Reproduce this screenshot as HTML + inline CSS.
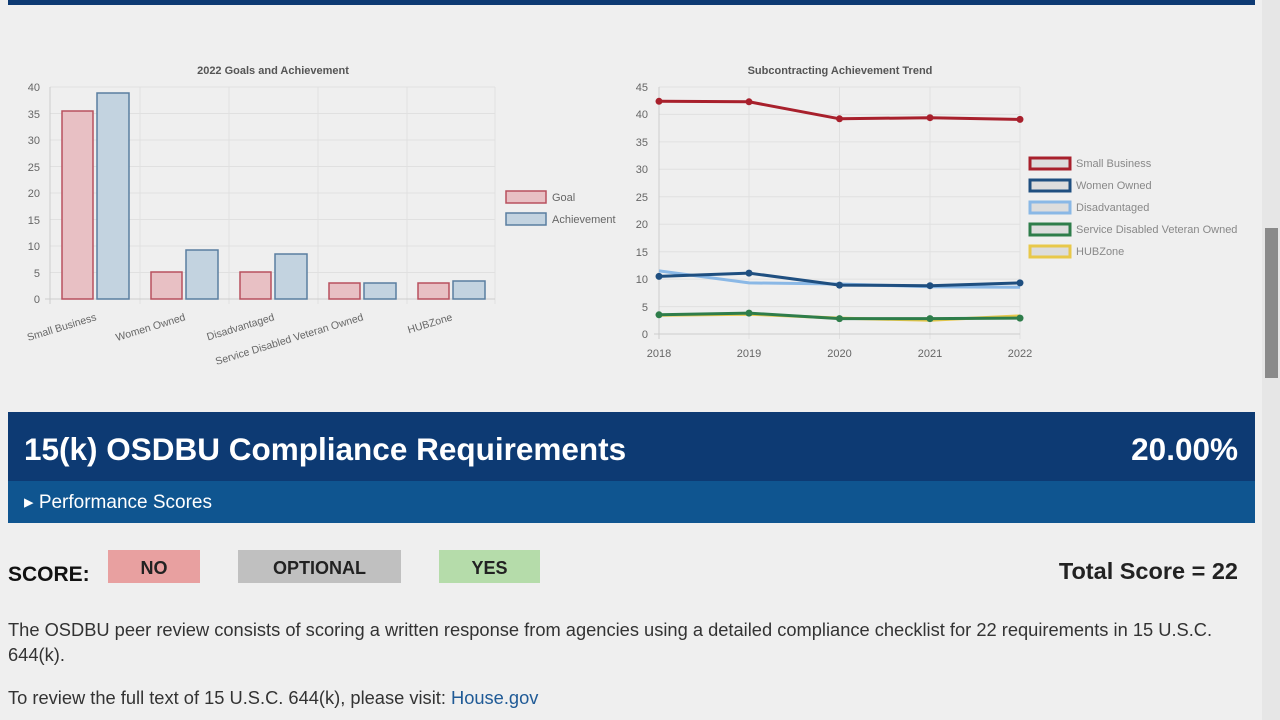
<!DOCTYPE html>
<html><head><style>
body{margin:0;width:1280px;height:720px;background:#efefef;font-family:"Liberation Sans",sans-serif;position:relative;overflow:hidden}
.a{position:absolute}
</style></head><body>
<div class="a" style="left:8px;top:0;width:1247px;height:5px;background:#0d3a73"></div>
<div class="a" style="left:1262px;top:0;width:18px;height:720px;background:#e6e6e6"></div>
<div class="a" style="left:1265px;top:228px;width:13px;height:150px;background:#8a8a8a"></div>
<svg class="a" style="left:0;top:0" width="1260" height="400" font-family="Liberation Sans" font-size="11" fill="#666">
<text x="273" y="74" text-anchor="middle" font-weight="bold" fill="#555">2022 Goals and Achievement</text>
<g stroke="#e0e0e0">
<line x1="50" x2="495" y1="87" y2="87"/><line x1="50" x2="495" y1="113.5" y2="113.5"/><line x1="50" x2="495" y1="140" y2="140"/><line x1="50" x2="495" y1="166.5" y2="166.5"/><line x1="50" x2="495" y1="193" y2="193"/><line x1="50" x2="495" y1="219.5" y2="219.5"/><line x1="50" x2="495" y1="246" y2="246"/><line x1="50" x2="495" y1="272.5" y2="272.5"/>
<line x1="140" x2="140" y1="87" y2="304"/><line x1="229" x2="229" y1="87" y2="304"/><line x1="318" x2="318" y1="87" y2="304"/><line x1="407" x2="407" y1="87" y2="304"/><line x1="495" x2="495" y1="87" y2="304"/>
</g>
<line x1="50" x2="50" y1="87" y2="304" stroke="#ccc"/><line x1="45" x2="495" y1="299" y2="299" stroke="#ccc"/>
<g text-anchor="end"><text x="40" y="91">40</text><text x="40" y="118">35</text><text x="40" y="144">30</text><text x="40" y="171">25</text><text x="40" y="197">20</text><text x="40" y="224">15</text><text x="40" y="250">10</text><text x="40" y="277">5</text><text x="40" y="303">0</text></g>
<g fill="#e8c0c4" stroke="#b8505e" stroke-width="1.5">
<rect x="62" y="111" width="31" height="188"/><rect x="151" y="272" width="31" height="27"/><rect x="240" y="272" width="31" height="27"/><rect x="329" y="283" width="31" height="16"/><rect x="418" y="283" width="31" height="16"/></g>
<g fill="#c3d3e0" stroke="#5a7ea0" stroke-width="1.5">
<rect x="97" y="93" width="32" height="206"/><rect x="186" y="250" width="32" height="49"/><rect x="275" y="254" width="32" height="45"/><rect x="364" y="283" width="32" height="16"/><rect x="453" y="281" width="32" height="18"/></g>
<g font-size="10.5">
<text transform="translate(97,320) rotate(-17)" text-anchor="end">Small Business</text>
<text transform="translate(186,320) rotate(-17)" text-anchor="end">Women Owned</text>
<text transform="translate(275,320) rotate(-17)" text-anchor="end">Disadvantaged</text>
<text transform="translate(364,320) rotate(-17)" text-anchor="end">Service Disabled Veteran Owned</text>
<text transform="translate(453,320) rotate(-17)" text-anchor="end">HUBZone</text></g>
<rect x="506" y="191" width="40" height="12" fill="#e8c0c4" stroke="#b8505e" stroke-width="1.5"/><text x="552" y="201">Goal</text>
<rect x="506" y="213" width="40" height="12" fill="#c3d3e0" stroke="#5a7ea0" stroke-width="1.5"/><text x="552" y="223">Achievement</text>

<text x="840" y="74" text-anchor="middle" font-weight="bold" fill="#555">Subcontracting Achievement Trend</text>
<g stroke="#e0e0e0">
<line x1="659" x2="1020" y1="87" y2="87"/><line x1="659" x2="1020" y1="114.4" y2="114.4"/><line x1="659" x2="1020" y1="141.9" y2="141.9"/><line x1="659" x2="1020" y1="169.3" y2="169.3"/><line x1="659" x2="1020" y1="196.8" y2="196.8"/><line x1="659" x2="1020" y1="224.2" y2="224.2"/><line x1="659" x2="1020" y1="251.7" y2="251.7"/><line x1="659" x2="1020" y1="279.1" y2="279.1"/><line x1="659" x2="1020" y1="306.6" y2="306.6"/>
<line x1="749" x2="749" y1="87" y2="339"/><line x1="839.5" x2="839.5" y1="87" y2="339"/><line x1="930" x2="930" y1="87" y2="339"/><line x1="1020" x2="1020" y1="87" y2="339"/></g>
<line x1="659" x2="659" y1="87" y2="339" stroke="#ccc"/><line x1="654" x2="1020" y1="334" y2="334" stroke="#ccc"/>
<g text-anchor="end"><text x="648" y="91">45</text><text x="648" y="118">40</text><text x="648" y="146">35</text><text x="648" y="173">30</text><text x="648" y="201">25</text><text x="648" y="228">20</text><text x="648" y="256">15</text><text x="648" y="283">10</text><text x="648" y="311">5</text><text x="648" y="338">0</text></g>
<g text-anchor="middle"><text x="659" y="357">2018</text><text x="749" y="357">2019</text><text x="839.5" y="357">2020</text><text x="930" y="357">2021</text><text x="1020" y="357">2022</text></g>
<g fill="none" stroke-width="3">
<polyline stroke="#e8c84a" points="659,315.3 749,314.2 839.5,318.1 930,320.3 1020,315.9"/>
<polyline stroke="#2e7d4a" points="659,314.8 749,313.1 839.5,318.6 930,318.6 1020,318.1"/>
<polyline stroke="#8ab8e6" points="659,270.9 749,282.9 839.5,284 930,286.8 1020,287.3"/>
<polyline stroke="#1f4f80" points="659,276.4 749,273.1 839.5,285.1 930,285.7 1020,282.9"/>
<polyline stroke="#a8202c" points="659,101.3 749,101.8 839.5,118.8 930,117.7 1020,119.4"/>
</g>
<g fill="#a8202c"><circle cx="659" cy="101.3" r="3.5"/><circle cx="749" cy="101.8" r="3.5"/><circle cx="839.5" cy="118.8" r="3.5"/><circle cx="930" cy="117.7" r="3.5"/><circle cx="1020" cy="119.4" r="3.5"/></g>
<g fill="#1f4f80"><circle cx="659" cy="276.4" r="3.5"/><circle cx="749" cy="273.1" r="3.5"/><circle cx="839.5" cy="285.1" r="3.5"/><circle cx="930" cy="285.7" r="3.5"/><circle cx="1020" cy="282.9" r="3.5"/></g>
<g fill="#2e7d4a"><circle cx="659" cy="314.8" r="3.5"/><circle cx="749" cy="313.1" r="3.5"/><circle cx="839.5" cy="318.6" r="3.5"/><circle cx="930" cy="318.6" r="3.5"/><circle cx="1020" cy="318.1" r="3.5"/></g>
<g stroke-width="3" fill="#ddd">
<rect x="1030" y="158" width="40" height="11" stroke="#a8202c"/>
<rect x="1030" y="180" width="40" height="11" stroke="#1f4f80"/>
<rect x="1030" y="202" width="40" height="11" stroke="#8ab8e6"/>
<rect x="1030" y="224" width="40" height="11" stroke="#2e7d4a"/>
<rect x="1030" y="246" width="40" height="11" stroke="#e8c84a"/></g>
<g fill="#888"><text x="1076" y="167">Small Business</text><text x="1076" y="189">Women Owned</text><text x="1076" y="211">Disadvantaged</text><text x="1076" y="233">Service Disabled Veteran Owned</text><text x="1076" y="255">HUBZone</text></g>
</svg>
<div class="a" style="left:8px;top:412px;width:1247px;height:69px;background:#0d3a73"></div>
<div class="a" style="left:8px;top:481px;width:1247px;height:42px;background:#0f5590"></div>
<div class="a" style="left:24px;top:431px;color:#fff;font-size:31.5px;font-weight:bold">15(k) OSDBU Compliance Requirements</div>
<div class="a" style="right:42px;top:431px;color:#fff;font-size:31.5px;font-weight:bold">20.00%</div>
<div class="a" style="left:24px;top:491px;color:#fff;font-size:19px">▸ Performance Scores</div>
<div class="a" style="left:8px;top:563px;color:#111;font-size:21px;font-weight:bold">SCORE:</div>
<div class="a" style="left:108px;top:550px;width:92px;height:33px;background:#e8a0a0;font-size:18px;font-weight:bold;text-align:center;line-height:36px;color:#222">NO</div>
<div class="a" style="left:238px;top:550px;width:163px;height:33px;background:#c0c0c0;font-size:18px;font-weight:bold;text-align:center;line-height:36px;color:#222">OPTIONAL</div>
<div class="a" style="left:439px;top:550px;width:101px;height:33px;background:#b5dcaa;font-size:18px;font-weight:bold;text-align:center;line-height:36px;color:#222">YES</div>
<div class="a" style="right:42px;top:558px;color:#222;font-size:23.5px;font-weight:bold">Total Score = 22</div>
<div class="a" style="left:8px;top:617px;width:1225px;color:#333;font-size:18.3px;line-height:25px">The OSDBU peer review consists of scoring a written response from agencies using a detailed compliance checklist for 22 requirements in 15 U.S.C. 644(k).</div>
<div class="a" style="left:8px;top:687px;color:#333;font-size:18.3px">To review the full text of 15 U.S.C. 644(k), please visit: <span style="color:#1f5a96">House.gov</span></div>
</body></html>
